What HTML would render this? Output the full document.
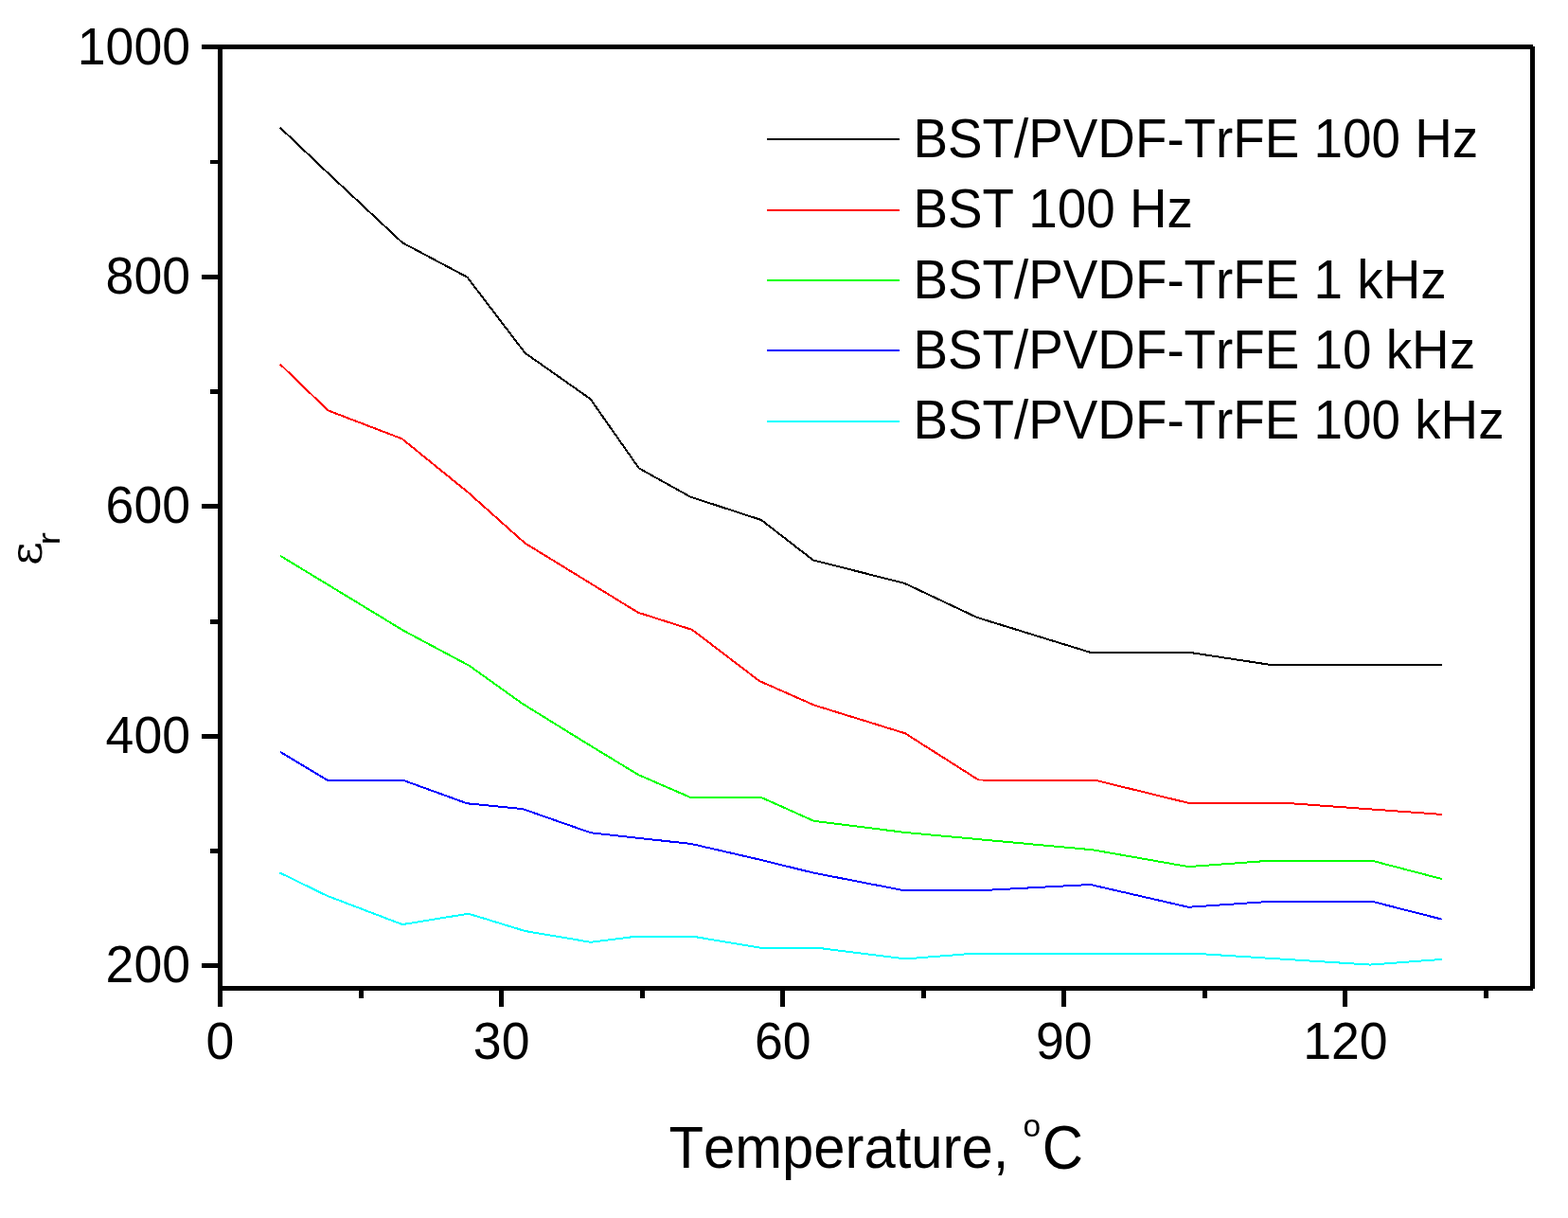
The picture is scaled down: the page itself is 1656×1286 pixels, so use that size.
<!DOCTYPE html>
<html><head><meta charset="utf-8"><title>chart</title>
<style>
html,body{margin:0;padding:0;background:#fff;}
svg{display:block;}
text{font-family:"Liberation Sans",Arial,sans-serif;fill:#000;}
text{font-kerning:none;}
.tk{font-size:53.6px;}
.lg{font-size:54.8px;}
.ax{font-size:59.8px;}
.ao{font-size:33.5px;}
.ey{font-size:48px;font-family:"DejaVu Serif",serif;}
.er{font-size:34px;}
</style></head><body>
<svg width="1656" height="1286" viewBox="0 0 1656 1286">
<rect width="1656" height="1286" fill="#fff"/>
<g fill="#000" shape-rendering="crispEdges">
<rect x="213" y="47" width="1406" height="5"/>
<rect x="230" y="47" width="5" height="1016"/>
<rect x="1616" y="49" width="5" height="995"/>
<rect x="230" y="1041" width="1389" height="5"/>
<rect x="213" y="1017" width="17" height="5"/>
<rect x="213" y="775" width="17" height="5"/>
<rect x="213" y="532" width="17" height="5"/>
<rect x="213" y="290" width="17" height="5"/>
<rect x="222" y="169" width="8" height="4"/>
<rect x="222" y="411" width="8" height="5"/>
<rect x="222" y="654" width="8" height="5"/>
<rect x="222" y="896" width="8" height="5"/>
<rect x="527" y="1046" width="5" height="17"/>
<rect x="824" y="1046" width="5" height="17"/>
<rect x="1121" y="1046" width="5" height="17"/>
<rect x="1418" y="1046" width="5" height="17"/>
<rect x="379" y="1046" width="5" height="8"/>
<rect x="676" y="1046" width="5" height="8"/>
<rect x="973" y="1046" width="5" height="8"/>
<rect x="1270" y="1046" width="5" height="8"/>
<rect x="1567" y="1046" width="5" height="8"/>
<polyline fill="none" stroke="#000000" stroke-width="2" points="296.0,134.9 345.5,181.9 424.9,256.2 493.4,292.6 554.5,372.7 623.5,421.2 674.8,494.4 729.4,524.7 804.0,549.0 858.8,591.4 955.4,615.9 1032.0,652.0 1151.8,688.9 1256.5,688.9 1341.0,701.8 1522.9,701.8"/>
<polyline fill="none" stroke="#ff0000" stroke-width="2" points="296.0,384.7 346.5,433.4 424.6,463.3 494.0,519.6 554.3,573.4 674.0,646.8 731.0,664.9 802.0,719.0 859.8,744.5 956.0,774.3 1033.4,823.5 1157.3,823.9 1254.5,847.7 1355.9,847.7 1522.6,859.9"/>
<polyline fill="none" stroke="#00ff00" stroke-width="2" points="296.0,586.8 425.8,665.6 495.8,703.0 551.8,743.0 624.0,787.6 674.1,818.0 728.9,841.8 803.6,841.8 859.5,866.8 956.3,879.0 1154.0,897.3 1255.1,915.1 1341.5,908.7 1448.7,908.7 1522.7,928.0"/>
<polyline fill="none" stroke="#0000ff" stroke-width="2" points="296.0,793.9 345.8,823.8 425.8,823.8 493.4,848.3 552.0,854.1 624.0,879.3 730.1,891.0 804.0,908.0 858.3,921.4 951.6,939.6 1046.1,939.6 1151.7,934.0 1255.1,957.8 1340.8,951.9 1449.5,951.9 1522.7,970.6"/>
<polyline fill="none" stroke="#00ffff" stroke-width="2" points="295.4,921.4 345.2,945.7 424.9,976.1 494.7,964.7 554.5,983.0 624.0,994.8 669.5,989.0 733.6,989.0 802.4,1000.6 863.0,1000.7 956.3,1012.4 1027.4,1006.8 1261.2,1006.7 1447.2,1018.6 1522.7,1012.9"/>
<rect x="810" y="146" width="140" height="2" fill="#000000"/>
<rect x="810" y="221" width="140" height="2" fill="#ff0000"/>
<rect x="810" y="295" width="140" height="2" fill="#00ff00"/>
<rect x="810" y="369" width="140" height="2" fill="#0000ff"/>
<rect x="810" y="444" width="140" height="2" fill="#00ffff"/>
</g>
<text transform="translate(201.00,68.10) scale(1,1.045)" class="tk" text-anchor="end">1000</text>
<text transform="translate(201.00,309.80) scale(1,1.045)" class="tk" text-anchor="end">800</text>
<text transform="translate(201.00,551.80) scale(1,1.045)" class="tk" text-anchor="end">600</text>
<text transform="translate(201.00,795.00) scale(1,1.045)" class="tk" text-anchor="end">400</text>
<text transform="translate(201.00,1036.80) scale(1,1.045)" class="tk" text-anchor="end">200</text>
<text transform="translate(232.50,1117.80) scale(1,1.045)" class="tk" text-anchor="middle">0</text>
<text transform="translate(529.62,1117.80) scale(1,1.045)" class="tk" text-anchor="middle">30</text>
<text transform="translate(826.74,1117.80) scale(1,1.045)" class="tk" text-anchor="middle">60</text>
<text transform="translate(1123.86,1117.80) scale(1,1.045)" class="tk" text-anchor="middle">90</text>
<text transform="translate(1420.98,1117.80) scale(1,1.045)" class="tk" text-anchor="middle">120</text>
<text transform="translate(964.50,165.90) scale(1,1.045)" class="lg">BST/PVDF-TrFE 100 Hz</text>
<text transform="translate(964.50,239.90) scale(1,1.045)" class="lg">BST 100 Hz</text>
<text transform="translate(964.50,314.90) scale(1,1.045)" class="lg">BST/PVDF-TrFE 1 kHz</text>
<text transform="translate(964.50,388.90) scale(1,1.045)" class="lg">BST/PVDF-TrFE 10 kHz</text>
<text transform="translate(964.50,462.90) scale(1,1.045)" class="lg">BST/PVDF-TrFE 100 kHz</text>
<text transform="translate(706.51,1233.00) scale(1,1.06)" class="ax">Temperature,</text>
<text transform="translate(1080.49,1199.60) scale(1,0.97)" class="ao">o</text>
<text transform="translate(1100.86,1233.60) scale(1,1.07)" class="ax">C</text>
<text transform="translate(44.0,597.0) rotate(-90)" class="ey">&#949;</text>
<text transform="translate(63.0,575.5) rotate(-90) scale(1.18,1)" class="er">r</text>
</svg>
</body></html>
